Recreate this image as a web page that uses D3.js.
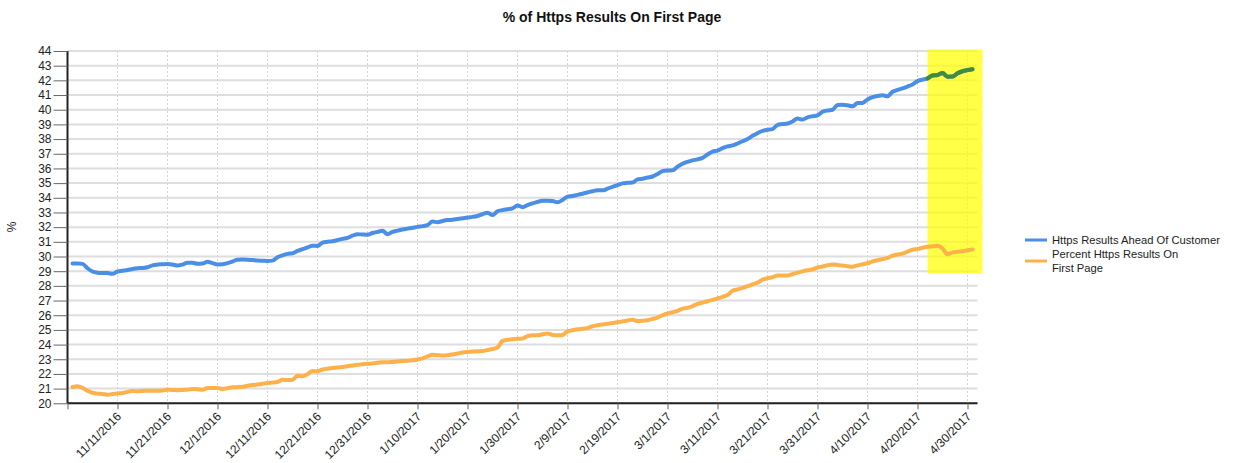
<!DOCTYPE html>
<html>
<head>
<meta charset="utf-8">
<script src="https://cdn.jsdelivr.net/npm/d3@7"></script>
<style>
  html, body { margin: 0; padding: 0; background: #fff; }
  svg { display: block; font-family: "Liberation Sans", Arial, sans-serif; }
</style>
</head>
<body>
<svg id="chart" width="1237" height="463"></svg>
<script>
// ---------------- DATA ----------------
const chartTitle = "% of Https Results On First Page";
const yAxisLabel = "%";
const seriesNames = ["Https Results Ahead Of Customer", "Percent Https Results On First Page"];
const firstDate = "2016-11-02";           // date of first value (daily series)
const axisStart = "2016-11-01";
const axisEnd = "2017-05-02";
const tickStepDays = 10;
const yMin = 20, yMax = 44;
const highlightStart = "2017-04-22";
const highlightEnd = "2017-05-03";
const highlightLow = 28.85, highlightHigh = 44.1;

const aheadOfCustomer = [
  29.53,29.53,29.50,29.20,28.98,28.90,28.88,28.87,28.82,28.98,
  29.03,29.08,29.15,29.20,29.22,29.27,29.40,29.45,29.47,29.49,
  29.45,29.38,29.45,29.58,29.58,29.50,29.52,29.64,29.55,29.46,
  29.47,29.55,29.66,29.78,29.79,29.78,29.76,29.72,29.71,29.70,
  29.72,29.95,30.08,30.18,30.22,30.38,30.50,30.62,30.74,30.72,
  30.95,31.00,31.04,31.12,31.20,31.27,31.42,31.52,31.50,31.48,
  31.60,31.68,31.75,31.52,31.68,31.76,31.84,31.90,31.96,32.02,
  32.07,32.14,32.38,32.34,32.42,32.48,32.50,32.55,32.60,32.66,
  32.70,32.76,32.88,32.98,32.82,33.08,33.16,33.22,33.28,33.48,
  33.36,33.50,33.62,33.72,33.80,33.80,33.78,33.70,33.85,34.08,
  34.12,34.20,34.28,34.36,34.45,34.52,34.51,34.62,34.75,34.86,
  34.98,35.02,35.04,35.25,35.30,35.38,35.45,35.62,35.82,35.86,
  35.87,36.12,36.32,36.45,36.55,36.62,36.72,36.95,37.15,37.22,
  37.38,37.50,37.57,37.70,37.85,38.00,38.22,38.40,38.56,38.63,
  38.68,38.97,39.02,39.06,39.20,39.40,39.33,39.48,39.56,39.62,
  39.86,39.95,40.00,40.32,40.34,40.30,40.23,40.45,40.46,40.70,
  40.86,40.93,40.98,40.92,41.22,41.35,41.45,41.58,41.72,41.95,
  42.05,42.14,42.33,42.36,42.50,42.25,42.26,42.48,42.62,42.70,
  42.76
];

const percentFirstPage = [
  21.11,21.16,21.05,20.85,20.72,20.66,20.64,20.58,20.63,20.67,
  20.70,20.78,20.83,20.82,20.84,20.86,20.85,20.86,20.87,20.93,
  20.90,20.89,20.91,20.93,20.97,20.96,20.93,21.04,21.05,21.04,
  20.98,21.03,21.09,21.10,21.12,21.20,21.24,21.28,21.33,21.39,
  21.41,21.45,21.60,21.58,21.60,21.88,21.84,21.98,22.20,22.18,
  22.30,22.36,22.40,22.44,22.48,22.52,22.58,22.63,22.66,22.69,
  22.72,22.76,22.80,22.79,22.82,22.85,22.88,22.90,22.93,22.98,
  23.06,23.20,23.30,23.28,23.26,23.28,23.33,23.39,23.46,23.50,
  23.53,23.55,23.56,23.63,23.70,23.80,24.25,24.33,24.37,24.39,
  24.42,24.58,24.64,24.64,24.70,24.75,24.66,24.64,24.66,24.90,
  24.98,25.04,25.08,25.12,25.25,25.32,25.37,25.42,25.47,25.52,
  25.58,25.64,25.70,25.60,25.62,25.66,25.75,25.84,26.00,26.12,
  26.20,26.30,26.45,26.50,26.62,26.77,26.86,26.95,27.05,27.15,
  27.25,27.38,27.66,27.76,27.86,27.98,28.10,28.22,28.42,28.52,
  28.59,28.70,28.71,28.70,28.80,28.90,28.99,29.06,29.12,29.25,
  29.32,29.40,29.45,29.42,29.39,29.34,29.30,29.40,29.47,29.54,
  29.67,29.75,29.82,29.90,30.06,30.14,30.20,30.33,30.47,30.52,
  30.60,30.67,30.70,30.74,30.55,30.15,30.28,30.32,30.36,30.42,
  30.48
];

// ---------------- STYLE ----------------
const colors = { blue: "#4a8ee6", orange: "#fdb14a", green: "#3f8c3c", yellow: "#ffff00" };

const svg = d3.select("#chart");
const parse = d3.utcParse("%Y-%m-%d");
const fmt = d3.utcFormat("%-m/%-d/%Y");

const x = d3.scaleUtc().domain([parse(axisStart), parse(axisEnd)]).range([67.5, 977.5]);
const y = d3.scaleLinear().domain([yMin, yMax]).range([403.3, 51]);

const d0 = parse(firstDate);
const toPoints = arr => arr.map((v, i) => ({ date: d3.utcDay.offset(d0, i), value: v }));
const blueData = toPoints(aheadOfCustomer);
const orangeData = toPoints(percentFirstPage);
const hs = parse(highlightStart), he = parse(highlightEnd);
const greenData = blueData.filter(d => d.date >= hs);

const ticks = d3.utcDay.range(parse(axisStart), parse(axisEnd), tickStepDays);

// Horizontal grid
svg.append("g").selectAll("line").data(d3.range(yMin, yMax + 1)).join("line")
  .attr("x1", 67.5).attr("x2", 977.5)
  .attr("y1", d => y(d)).attr("y2", d => y(d))
  .attr("stroke", "#dedede").attr("stroke-width", 2);

// Vertical dashed grid
svg.append("g").selectAll("line").data(ticks.slice(1)).join("line")
  .attr("x1", d => x(d)).attr("x2", d => x(d))
  .attr("y1", 51).attr("y2", 403)
  .attr("stroke", "#d4d4d4").attr("stroke-width", 1).attr("stroke-dasharray", "2,2");

// Highlight
svg.append("rect")
  .attr("x", x(hs)).attr("width", x(he) - x(hs))
  .attr("y", y(highlightHigh)).attr("height", y(highlightLow) - y(highlightHigh))
  .attr("fill", colors.yellow).attr("fill-opacity", 0.72);

// Lines
const line = d3.line().x(d => x(d.date)).y(d => y(d.value)).curve(d3.curveMonotoneX);
svg.append("path").datum(blueData).attr("d", line)
  .attr("fill", "none").attr("stroke", colors.blue).attr("stroke-width", 4)
  .attr("stroke-linejoin", "round").attr("stroke-linecap", "round");
svg.append("path").datum(orangeData).attr("d", line)
  .attr("fill", "none").attr("stroke", colors.orange).attr("stroke-width", 4)
  .attr("stroke-linejoin", "round").attr("stroke-linecap", "round");
svg.append("path").datum(greenData).attr("d", line)
  .attr("fill", "none").attr("stroke", colors.green).attr("stroke-width", 4)
  .attr("stroke-linejoin", "round").attr("stroke-linecap", "round");

// Y axis
const yAxis = d3.axisLeft(y).tickValues(d3.range(yMin, yMax + 1)).tickSize(14).tickPadding(2).tickFormat(d3.format("d"));
const gy = svg.append("g").attr("transform", "translate(67.5,0)").call(yAxis);
gy.select(".domain").attr("stroke", "#222").attr("stroke-width", 2).attr("d", "M0,51V403.3");
gy.selectAll(".tick line").attr("stroke", "#666").attr("stroke-width", 1);
gy.selectAll(".tick text").attr("font-size", 12).attr("fill", "#222").attr("font-family", "Liberation Sans, Arial, sans-serif");

// X axis
const xAxis = d3.axisBottom(x).tickValues(ticks).tickSize(6).tickFormat((d, i) => i === 0 ? "" : fmt(d));
const gx = svg.append("g").attr("transform", "translate(0,403.3)").call(xAxis);
gx.select(".domain").attr("stroke", "#222").attr("stroke-width", 2).attr("d", "M67.5,0H977.5");
gx.selectAll(".tick line").attr("stroke", "#666");
gx.selectAll(".tick text")
  .attr("font-size", 12).attr("fill", "#222").attr("font-family", "Liberation Sans, Arial, sans-serif")
  .attr("text-anchor", "end").attr("dy", null).attr("y", 0)
  .attr("transform", "translate(4,14) rotate(-45)");

// Title
svg.append("text").attr("x", 612).attr("y", 22).attr("text-anchor", "middle")
  .attr("font-size", 14).attr("font-weight", "bold").attr("fill", "#111").text(chartTitle);

// Y label
svg.append("text").attr("transform", "translate(16,227) rotate(-90)").attr("text-anchor", "middle")
  .attr("font-size", 12).attr("fill", "#222").text(yAxisLabel);

// Legend
const lg = svg.append("g");
lg.append("line").attr("x1", 1025).attr("x2", 1047).attr("y1", 240).attr("y2", 240)
  .attr("stroke", colors.blue).attr("stroke-width", 3);
lg.append("text").attr("x", 1052).attr("y", 244).attr("font-size", 11.2).attr("fill", "#222").text(seriesNames[0]);
lg.append("line").attr("x1", 1025).attr("x2", 1047).attr("y1", 261).attr("y2", 261)
  .attr("stroke", colors.orange).attr("stroke-width", 3);
const t2 = lg.append("text").attr("font-size", 11.2).attr("fill", "#222");
t2.append("tspan").attr("x", 1052).attr("y", 258).text("Percent Https Results On");
t2.append("tspan").attr("x", 1052).attr("y", 271.5).text("First Page");
</script>
</body>
</html>
